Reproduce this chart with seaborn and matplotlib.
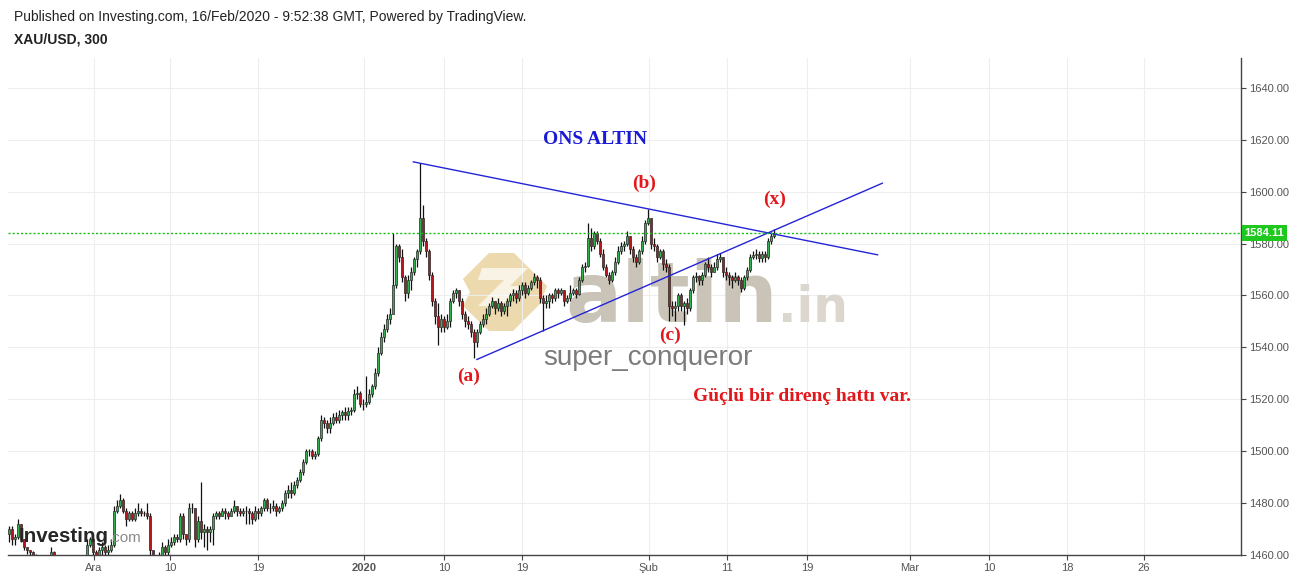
import matplotlib
matplotlib.use("Agg")
import numpy as np
import pandas as pd
import matplotlib.pyplot as plt
import seaborn as sns
from matplotlib.patches import Polygon

# =========================================================
# DATA  (XAU/USD, 300 min candles)
# =========================================================
first_open = 1468.0

closes = [
    1470, 1466, 1467, 1472, 1466, 1463, 1462, 1461, 1460, 1458,
    1457, 1456, 1455, 1457, 1461, 1457, 1455, 1454, 1455, 1456,
    1455, 1456, 1457, 1456, 1457, 1459, 1464, 1466, 1461, 1460,
    1462, 1463, 1461, 1462, 1464, 1477, 1479, 1481, 1477, 1474,
    1476, 1474, 1476, 1477, 1476, 1476, 1475, 1462, 1458, 1457,
    1459, 1463, 1461, 1464, 1465, 1467, 1466, 1475, 1468, 1466,
    1478, 1478, 1466, 1473, 1469, 1470, 1469, 1470, 1475, 1476,
    1475, 1477, 1476, 1475, 1477, 1479, 1477, 1476, 1477, 1477,
    1476, 1474, 1477, 1476, 1478, 1481, 1478, 1478, 1479, 1477,
    1478, 1480, 1484, 1485, 1484, 1487, 1489, 1492, 1496, 1500,
    1500, 1498, 1499, 1505, 1512, 1511, 1509, 1511, 1513, 1512,
    1514, 1515, 1514, 1515.5, 1516, 1522, 1522.5, 1518, 1518, 1519,
    1522, 1525, 1530, 1538, 1544, 1547, 1551, 1553, 1564, 1579,
    1575, 1567, 1561, 1566, 1569, 1574, 1577, 1590, 1581, 1577,
    1568, 1558, 1552, 1548, 1551, 1548, 1550, 1558, 1561, 1562,
    1558, 1553, 1550, 1549, 1546, 1542, 1546, 1549, 1551, 1553,
    1556, 1558, 1555, 1557, 1554, 1556, 1558, 1560, 1561, 1559,
    1562, 1564, 1561, 1563, 1565, 1567, 1566, 1559, 1557, 1558,
    1560, 1559, 1562, 1561, 1562, 1558, 1559, 1561, 1562, 1560.7,
    1565.8, 1570.8, 1571.5, 1582, 1579, 1584, 1581, 1576, 1571, 1568,
    1566, 1569, 1573, 1577, 1579, 1580, 1583, 1578, 1575, 1573,
    1577, 1581, 1588, 1590, 1580, 1579, 1575, 1577, 1572, 1571,
    1556, 1555, 1556, 1560, 1556, 1557, 1555, 1562, 1567, 1567.5,
    1566, 1568, 1572, 1571, 1569, 1571, 1574, 1575, 1569, 1568,
    1567, 1566, 1567, 1566, 1562.7, 1567, 1570, 1575, 1575.5, 1576,
    1574.5, 1576, 1575, 1581, 1583, 1584.11,
]

highs = [
    1471, 1471, 1468, 1474, 1472, 1466, 1463, 1462, 1461.5, 1460.5,
    1459, 1458, 1457, 1459, 1463, 1461.5, 1458, 1457, 1457, 1458,
    1457, 1458, 1459, 1458.5, 1459, 1460, 1466, 1467, 1467, 1462,
    1463, 1465, 1464, 1464, 1466, 1479, 1481, 1483.5, 1482, 1478,
    1477, 1477, 1478, 1480, 1478, 1477, 1480, 1476, 1462, 1459,
    1461, 1465, 1464, 1466, 1467, 1468, 1468, 1476, 1476, 1468,
    1480, 1480, 1478, 1475, 1488, 1472, 1471, 1471, 1476, 1477,
    1477, 1478, 1478, 1477, 1478, 1481, 1479, 1478, 1478, 1479,
    1478, 1477, 1479, 1478, 1479, 1482, 1482, 1480, 1481, 1480,
    1479, 1481, 1485, 1487, 1488, 1488.5, 1490, 1493, 1497, 1501,
    1501, 1501, 1500, 1506, 1514, 1513, 1512, 1513, 1514.6, 1515,
    1516, 1516, 1517, 1517, 1517, 1524, 1525, 1523, 1520, 1529,
    1524, 1526, 1532, 1540, 1546, 1549, 1553, 1555, 1584, 1580,
    1580, 1578, 1568, 1568, 1571, 1575, 1578, 1611, 1595, 1582,
    1578, 1569, 1559, 1557, 1553, 1552, 1553, 1559, 1562, 1563,
    1562, 1559, 1554, 1552, 1550, 1547, 1547, 1550, 1553, 1555,
    1557, 1559.5, 1558, 1559, 1558, 1557, 1559, 1561, 1562.5, 1562,
    1564, 1565, 1565, 1564, 1566, 1568.5, 1568, 1567, 1560, 1560,
    1561, 1561, 1563, 1563, 1563, 1562, 1560, 1564, 1563, 1563,
    1567, 1572, 1573, 1588, 1586, 1585, 1585, 1582, 1578, 1572,
    1569, 1570, 1575, 1579, 1580.5, 1581, 1585, 1583, 1579, 1576,
    1578, 1583, 1589, 1593.5, 1590, 1582, 1580, 1578, 1578, 1574,
    1572, 1558, 1558, 1561, 1561, 1558, 1559, 1563, 1568, 1569,
    1568, 1569, 1573, 1575, 1572, 1573, 1576, 1576.5, 1575, 1571,
    1569, 1568, 1569, 1568, 1567, 1568, 1571, 1576, 1577, 1578,
    1577, 1577, 1577, 1582, 1584.5, 1585.5,
]

lows = [
    1465, 1464, 1464, 1466, 1465, 1462, 1460.5, 1459, 1458, 1456,
    1455, 1454, 1453, 1454, 1456, 1455, 1453, 1452, 1452, 1454,
    1453, 1454, 1455, 1454, 1455, 1456, 1458, 1463, 1459, 1458,
    1459, 1460, 1459, 1460, 1461, 1463, 1476, 1478, 1476, 1471,
    1473, 1473, 1473, 1475, 1475, 1475, 1474, 1460, 1456, 1455,
    1456, 1458, 1459, 1460, 1463, 1464, 1465, 1465, 1466, 1464,
    1465, 1476, 1463, 1465, 1466, 1463, 1462, 1465, 1464, 1474,
    1474, 1475, 1474, 1474, 1475, 1476, 1475, 1475, 1475, 1472,
    1472, 1472, 1473, 1474, 1475, 1477, 1477, 1476, 1477, 1475,
    1476, 1477, 1479, 1482, 1482, 1483, 1486, 1488, 1491, 1495,
    1498, 1497, 1497, 1498, 1504, 1509, 1507, 1507, 1510, 1511,
    1511, 1512, 1512, 1512, 1514, 1515, 1520, 1517, 1516, 1517,
    1518, 1521, 1524, 1529, 1537, 1542, 1546, 1549, 1553, 1563,
    1573, 1565, 1558, 1559, 1562, 1568, 1571, 1576, 1579, 1575,
    1566, 1556, 1549, 1541, 1546, 1546, 1547, 1548, 1557, 1559,
    1556, 1551, 1548, 1547, 1544, 1536, 1540, 1545, 1548, 1549,
    1552, 1555, 1553, 1554, 1552, 1553, 1552, 1556, 1558, 1557,
    1558, 1560, 1559, 1560, 1562, 1564, 1563, 1557, 1546.5, 1555,
    1555, 1557, 1558, 1559, 1560, 1556, 1557, 1558, 1560, 1559,
    1560, 1565, 1569, 1571, 1577, 1578, 1580, 1575, 1570, 1567,
    1564.6, 1565, 1568, 1572, 1576, 1577, 1579, 1576, 1573, 1571,
    1572, 1576, 1580, 1587, 1578, 1577, 1573, 1574, 1570, 1569,
    1550, 1552, 1550, 1554, 1554, 1548.5, 1553, 1554, 1561, 1565,
    1564, 1564, 1567, 1569, 1567, 1569, 1570, 1573, 1567, 1566,
    1564, 1563, 1565, 1564, 1561.5, 1562, 1566, 1569, 1574, 1574,
    1573, 1573, 1573, 1574, 1580, 1582,
]

# x axis (bar index positions of the date labels)
tick_labels = ["Ara", "10", "19", "2020", "10", "19", "Şub", "11", "19",
               "Mar", "10", "18", "26"]
tick_pos = [28.3, 53.7, 83.0, 118.3, 145.0, 171.0, 213.3, 239.3, 266.0,
            300.3, 326.7, 352.7, 378.3]

price_ticks = [1460, 1480, 1500, 1520, 1540, 1560, 1580, 1600, 1620, 1640]
last_price = 1584.11

# drawn trend lines (start / end)
upper_line_x = [134.7, 289.6]
upper_line_y = [1611.5, 1575.65]
lower_line_x = [155.9, 291.2]
lower_line_y = [1535.3, 1603.3]

wave_labels = ["(a)", "(b)", "(c)", "(x)"]
wave_x = [153.3, 211.7, 220.3, 255.3]
wave_y = [1528.8, 1603.1, 1544.6, 1596.9]

# =========================================================
# BUILD OHLC TABLE
# =========================================================
df = pd.DataFrame({"close": closes, "high": highs, "low": lows})
df["open"] = [first_open] + closes[:-1]
df["high"] = df[["high", "open", "close"]].max(axis=1)
df["low"] = df[["low", "open", "close"]].min(axis=1)
df["idx"] = np.arange(len(df))
df["up"] = df["close"] >= df["open"]

# =========================================================
# FIGURE
# =========================================================
sns.set_theme(style="white")
plt.rcParams["font.family"] = ["Liberation Sans", "DejaVu Sans"]

W, H = 1299, 579
fig = plt.figure(figsize=(W / 100, H / 100), dpi=100)
fig.patch.set_facecolor("white")

ax = fig.add_axes([8 / W, 24 / H, 1233 / W, 497 / H])
ax.set_facecolor("white")


def px(x, y):
    return x / W, 1 - y / H


# watermark logo (behind candles)
logo_outer = [(463, 279), (489, 253), (514, 253), (547, 286), (540, 304),
              (513, 331), (489, 331), (463, 306), (470, 292)]
logo_cut = [(478, 280), (504, 280), (478, 306), (498, 306), (532, 286),
            (510, 286), (528, 268), (482, 268)]
ax.add_patch(Polygon([px(*p) for p in logo_outer], closed=True,
                     transform=fig.transFigure, facecolor="#ead3a0",
                     edgecolor="none", alpha=0.85, zorder=0.5))
ax.add_patch(Polygon([px(*p) for p in logo_cut], closed=True,
                     transform=fig.transFigure, facecolor="white",
                     edgecolor="none", alpha=0.7, zorder=0.55))

ax.text(*px(565, 322), "altin", transform=fig.transFigure, fontsize=60,
        fontweight="bold", family=["DejaVu Sans"], color="#c9c4b7",
        ha="left", va="baseline", zorder=0.6)
ax.text(*px(778, 322), ".in", transform=fig.transFigure, fontsize=35,
        fontweight="bold", family=["DejaVu Sans"], color="#dbd7ce",
        ha="left", va="baseline", zorder=0.6)
ax.text(*px(648, 358), "super_conqueror", transform=fig.transFigure,
        fontsize=20, color="#7b7b7b", ha="center", va="center", zorder=0.6)

# grid
ax.set_xticks(tick_pos)
ax.set_xticklabels(tick_labels)
ax.set_yticks(price_ticks)
ax.set_yticklabels([f"{v:.2f}" for v in price_ticks])
ax.grid(True, color="#eeeeee", linewidth=0.8, zorder=0)
ax.set_axisbelow(True)

# candles
ax.vlines(df["idx"], df["low"], df["high"], color="#111111",
          linewidth=0.9, zorder=2)
body_bottom = df[["open", "close"]].min(axis=1)
body_height = (df["close"] - df["open"]).abs()
colors = np.where(df["up"], "#36ad4e", "#b3191c")
ax.bar(df["idx"], body_height, bottom=body_bottom, width=0.8,
       color=colors, edgecolor="#2a2a2a", linewidth=0.5, zorder=3)

# trend lines
sns.lineplot(x=upper_line_x, y=upper_line_y, ax=ax, color="#2424d8",
             linewidth=1.0, zorder=4)
sns.lineplot(x=lower_line_x, y=lower_line_y, ax=ax, color="#2424d8",
             linewidth=1.0, zorder=4)

# last price line + label
ax.axhline(last_price, color="#14c014", linestyle=(0, (1.5, 1.5)),
           linewidth=1.0, zorder=4)
ax.text(1.003, last_price, f"{last_price:.2f}",
        transform=ax.get_yaxis_transform(), ha="left", va="center",
        fontsize=8, fontweight="bold", color="white", clip_on=False,
        zorder=6,
        bbox=dict(boxstyle="square,pad=0.28", facecolor="#1ec81e",
                  edgecolor="none"))

# annotations
serif = ["Liberation Serif", "DejaVu Serif"]
ax.text(195.3, 1620, "ONS ALTIN", fontsize=14, fontweight="bold",
        color="#1a1ad6", family=serif, ha="center", va="center", zorder=6)
for lab, xx, yy in zip(wave_labels, wave_x, wave_y):
    ax.text(xx, yy, lab, fontsize=14, fontweight="bold", color="#e3161b",
            family=serif, ha="center", va="center", zorder=6)
ax.text(264.3, 1521.2, "Güçlü bir direnç hattı var.", fontsize=14,
        fontweight="bold", color="#e3161b", family=serif, ha="center",
        va="center", zorder=6)

# investing logo
ax.text(*px(19, 542), "Investing", transform=fig.transFigure, fontsize=14.8,
        fontweight="bold", color="#262626", ha="left", va="baseline",
        zorder=7)
ax.text(*px(109, 542), ".com", transform=fig.transFigure, fontsize=11,
        color="#8a8a8a", ha="left", va="baseline", zorder=7)

# axes styling
ax.set_xlim(-1 / 3, 410.67)
ax.set_ylim(1460, 1651.5)
ax.yaxis.tick_right()
for s in ("top", "left"):
    ax.spines[s].set_visible(False)
for s in ("right", "bottom"):
    ax.spines[s].set_color("#444444")
    ax.spines[s].set_linewidth(1.0)
ax.tick_params(axis="both", which="both", length=3.5, width=0.8,
               color="#444444", labelsize=8, labelcolor="#555555",
               bottom=True, right=True, left=False, top=False, pad=2)
for lab in ax.get_xticklabels():
    if lab.get_text() == "2020":
        lab.set_fontweight("bold")

# header
fig.text(14 / W, 1 - 17 / H, "Published on Investing.com, 16/Feb/2020 - "
         "9:52:38 GMT, Powered by TradingView.", fontsize=10, color="#222222",
         ha="left", va="center")
fig.text(14 / W, 1 - 40 / H, "XAU/USD, 300", fontsize=10, fontweight="bold",
         color="#222222", ha="left", va="center")

fig.savefig("out.png", dpi=100)
